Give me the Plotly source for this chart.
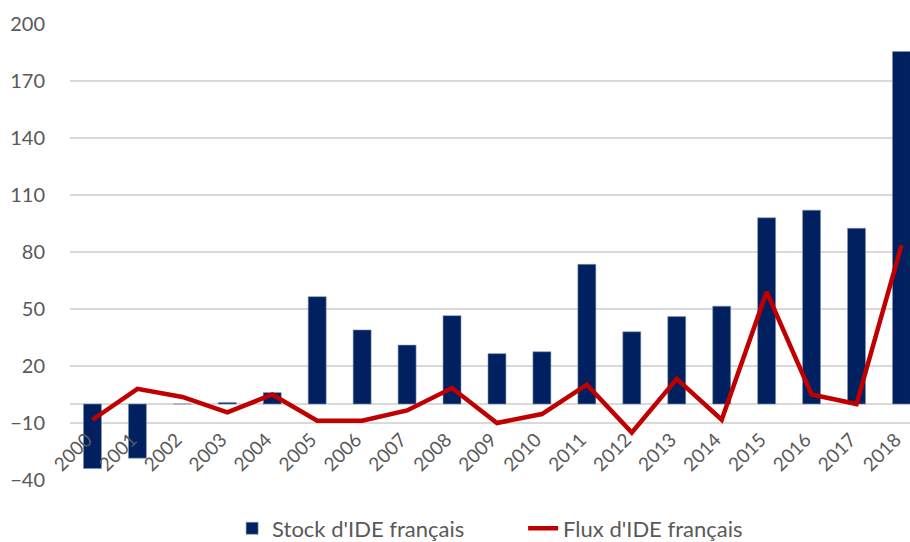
import plotly.graph_objects as go

years = [str(y) for y in range(2000, 2019)]
stock = [-34, -28.5, 0, 0.8, 6, 56.5, 39, 31, 46.5, 26.5, 27.5, 73.5, 38, 46, 51.5, 98, 102, 92.5, 185.5]
flux = [-8.3, 8, 3.7, -4.4, 5, -8.8, -8.8, -3.4, 8.4, -10, -5.3, 10.2, -15, 13.2, -8.3, 59, 5, 0, 83.5]
y_ticks = [-40, -10, 20, 50, 80, 110, 140, 170, 200]

FONT = "Lato"
GRAY = "#595959"

fig = go.Figure()
fig.add_trace(go.Bar(
    x=years, y=stock, name="Stock d'IDE français",
    marker=dict(color="#002060", line=dict(width=0.6, color="#8497B0")),
))
fig.add_trace(go.Scatter(
    x=years, y=flux, name="Flux d'IDE français", mode="lines",
    line=dict(color="#C00000", width=4.5),
))

fig.update_layout(
    width=910, height=542,
    margin=dict(l=70, r=0, t=24, b=62, autoexpand=False),
    paper_bgcolor="white", plot_bgcolor="white",
    bargap=0.6,
    font=dict(family=FONT, size=20, color=GRAY),
    showlegend=True,
    legend=dict(orientation="h", x=0.193, xanchor="left",
                yref="container", y=0.025, yanchor="middle",
                font=dict(family=FONT, size=22, color=GRAY),
                entrywidth=246, entrywidthmode="pixels",
                bgcolor="rgba(0,0,0,0)"),
)
fig.update_xaxes(
    type="category", range=[-0.5, 18.19],
    anchor="free", position=(0 - (-40)) / 240,
    tickangle=-45, showgrid=False, showline=False, ticks="",
    ticklabelstandoff=20, ticklabelshift=-6,
    tickfont=dict(family=FONT, size=19, color=GRAY),
)
fig.update_yaxes(
    range=[-40, 200], tickvals=y_ticks,
    showgrid=True, gridcolor="#D9D9D9", gridwidth=1.5,
    zeroline=True, zerolinecolor="#D9D9D9", zerolinewidth=1.5,
    showline=False, ticks="", ticklabelstandoff=24,
    tickfont=dict(family=FONT, size=20, color=GRAY),
)

fig.write_html(
    "out.html",
    config={"displayModeBar": False},
    post_script="document.body.style.margin='0';document.body.style.overflow='hidden';",
)
